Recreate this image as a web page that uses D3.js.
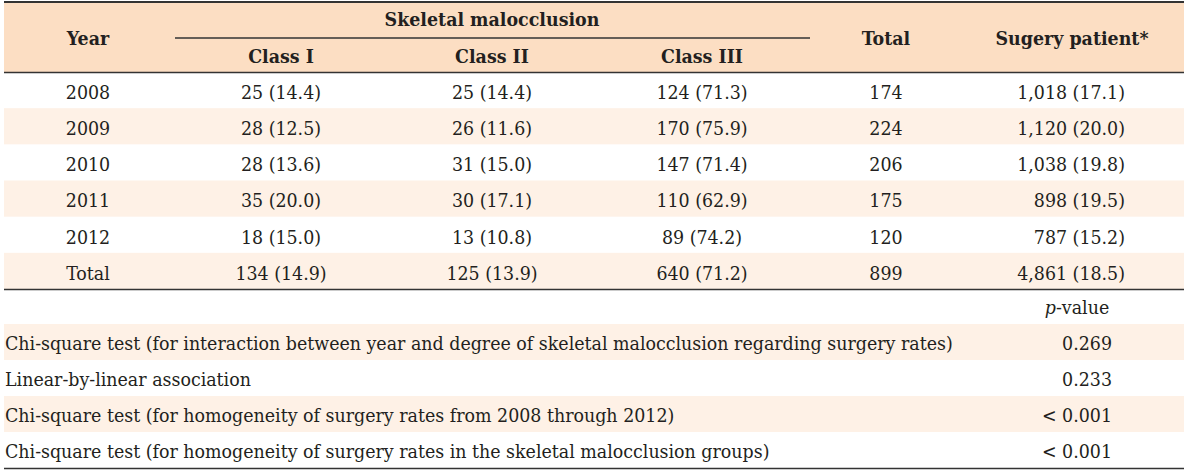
<!DOCTYPE html>
<html><head><meta charset="utf-8">
<script src="https://cdn.jsdelivr.net/npm/d3@7"></script>
<style>
html,body{margin:0;padding:0;background:#fff;}
svg{display:block;}
text{font-family:"DejaVu Serif Condensed","DejaVu Serif",serif;font-stretch:condensed;fill:#231f20;}
</style></head>
<body><svg id="c" width="1200" height="471"></svg>
<script>
// ---- data ----
const years = ["2008","2009","2010","2011","2012","Total"];
const classI = ["25 (14.4)","28 (12.5)","28 (13.6)","35 (20.0)","18 (15.0)","134 (14.9)"];
const classII = ["25 (14.4)","26 (11.6)","31 (15.0)","30 (17.1)","13 (10.8)","125 (13.9)"];
const classIII = ["124 (71.3)","170 (75.9)","147 (71.4)","110 (62.9)","89 (74.2)","640 (71.2)"];
const totals = ["174","224","206","175","120","899"];
const surgery = ["1,018 (17.1)","1,120 (20.0)","1,038 (19.8)","898 (19.5)","787 (15.2)","4,861 (18.5)"];
const classHeaders = ["Class I","Class II","Class III"];
const tests = [
  "Chi-square test (for interaction between year and degree of skeletal malocclusion regarding surgery rates)",
  "Linear-by-linear association",
  "Chi-square test (for homogeneity of surgery rates from 2008 through 2012)",
  "Chi-square test (for homogeneity of surgery rates in the skeletal malocclusion groups)"
];
const pvalues = ["0.269","0.233","< 0.001","< 0.001"];

// ---- layout ----
const svg = d3.select("#c");
const X0 = 4, X1 = 1184;
const headerFill = "#fcdec3", altFill = "#fef1e6", lineColor = "#333";

// calibrate font size so the long test label spans ~948px
const probe = svg.append("text").style("font-size","17px").text(tests[0]);
const w = probe.node().getComputedTextLength();
probe.remove();
const fs = 17 * 948 / w;
const probeB = svg.append("text").style("font-size","17px").style("font-weight","bold").text("Skeletal malocclusion");
const wb = probeB.node().getComputedTextLength();
probeB.remove();
const fsb = 17 * 215 / wb;

const yData = d3.scaleBand().domain(years).range([72, 289]);
const yTest = d3.scaleBand().domain(tests).range([324, 468]);
const colX = d3.scaleOrdinal()
  .domain(["year","c1","c2","c3","total","surgery","pcenter"])
  .range([88, 281, 492, 702, 886, 1072, 1077]);
const rightX = d3.scaleOrdinal().domain(["surgery","p"]).range([1125, 1112]);

// header band
svg.append("rect").attr("x",X0).attr("y",2).attr("width",X1-X0).attr("height",70).attr("fill",headerFill);
// alt rows
svg.selectAll("rect.alt").data(years.filter((d,i)=>i%2===1)).enter().append("rect")
  .attr("x",X0).attr("width",X1-X0).attr("y",d=>yData(d)).attr("height",yData.bandwidth()).attr("fill",altFill);
svg.selectAll("rect.alt2").data(tests.filter((d,i)=>i%2===0)).enter().append("rect")
  .attr("x",X0).attr("width",X1-X0).attr("y",d=>yTest(d)).attr("height",yTest.bandwidth()).attr("fill",altFill);

// lines
const line = (x1,x2,y,sw)=>svg.append("line").attr("x1",x1).attr("x2",x2).attr("y1",y).attr("y2",y)
  .attr("stroke",lineColor).attr("stroke-width",sw);
line(X0,X1,2,2);
line(175,810,38,1.5);
line(X0,X1,72.5,1.5);
line(X0,X1,289.5,1.5);
line(X0,X1,468.5,1.5);

// header text
const hdr = (x,y,t)=>svg.append("text").attr("x",x).attr("y",y).attr("text-anchor","middle")
  .attr("dy","0.35em").style("font-size",fsb+"px").style("font-weight","bold").text(t);
hdr(colX("year"),38,"Year");
hdr(492,19,"Skeletal malocclusion");
svg.selectAll("text.ch").data(classHeaders).enter().append("text")
  .attr("x",(d,i)=>colX(["c1","c2","c3"][i])).attr("y",56).attr("dy","0.35em")
  .attr("text-anchor","middle").style("font-size",fsb+"px").style("font-weight","bold").text(d=>d);
hdr(colX("total"),38,"Total");
hdr(colX("surgery"),38,"Sugery patient*");

// body
const cols = [["year",years],["c1",classI],["c2",classII],["c3",classIII],["total",totals]];
cols.forEach(([k,arr])=>{
  svg.selectAll("text.b"+k).data(arr).enter().append("text")
    .attr("x",colX(k)).attr("y",(d,i)=>yData(years[i])+yData.bandwidth()/2+2)
    .attr("dy","0.35em").attr("text-anchor","middle").style("font-size",fs+"px").text(d=>d);
});
svg.selectAll("text.bs").data(surgery).enter().append("text")
  .attr("x",rightX("surgery")).attr("y",(d,i)=>yData(years[i])+yData.bandwidth()/2+2)
  .attr("dy","0.35em").attr("text-anchor","end").style("font-size",fs+"px").text(d=>d);

// p-value header
const ph = svg.append("text").attr("x",colX("pcenter")).attr("y",307).attr("dy","0.35em")
  .attr("text-anchor","middle").style("font-size",fs+"px");
ph.append("tspan").style("font-style","italic").text("p");
ph.append("tspan").text("-value");

// tests
svg.selectAll("text.t").data(tests).enter().append("text")
  .attr("x",5).attr("y",d=>yTest(d)+yTest.bandwidth()/2+1).attr("dy","0.35em")
  .style("font-size",fs+"px").text(d=>d);
svg.selectAll("text.p").data(pvalues).enter().append("text")
  .attr("x",rightX("p")).attr("y",(d,i)=>yTest(tests[i])+yTest.bandwidth()/2+1).attr("dy","0.35em")
  .attr("text-anchor","end").style("font-size",fs+"px").text(d=>d);
</script>
</body></html>
